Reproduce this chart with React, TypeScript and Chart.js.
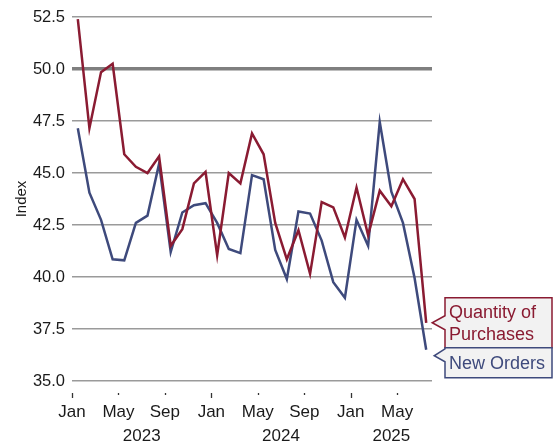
import React, { useEffect, useRef } from 'react';
import { Chart, registerables } from 'chart.js';

Chart.register(...registerables);

// ---- data ----
const startYear = 2023;
const monthNames = ['Jan', 'Feb', 'Mar', 'Apr', 'May', 'Jun', 'Jul', 'Aug', 'Sep', 'Oct', 'Nov', 'Dec'];
const quantityOfPurchases = [
  52.4, 47.15, 49.85, 50.25, 45.9, 45.3, 45.0, 45.8, 41.5, 42.3, 44.5, 45.05,
  41.05, 45.0, 44.5, 46.9, 45.9, 42.6, 40.85, 42.25, 40.15, 43.6, 43.35, 41.9,
  44.3, 42.0, 44.15, 43.4, 44.7, 43.75, 37.8,
];
const newOrders = [
  47.15, 44.05, 42.75, 40.85, 40.8, 42.6, 42.95, 45.45, 41.2, 43.1, 43.45, 43.55,
  42.6, 41.35, 41.15, 44.9, 44.7, 41.3, 39.9, 43.15, 43.05, 41.75, 39.75, 39.0,
  42.75, 41.5, 47.45, 44.1, 42.6, 39.95, 36.5,
];
const yearLabels = ['2023', '2024', '2025'];
const tickEveryMonths = 4;
const yMin = 35;
const yMax = 52.5;
const yStep = 2.5;
const refLine = 50;
const seriesNames = ['Quantity of Purchases', 'New Orders'];
const seriesLabelLines = [['Quantity of', 'Purchases'], ['New Orders']];

const FONT = '"Liberation Sans", Arial, Helvetica, sans-serif';
const RED = '#8a1b32';
const BLUE = '#3e4a7c';
const TEXT = '#1a1a1a';

const nMonths = quantityOfPurchases.length;

function drawCallout(
  ctx: CanvasRenderingContext2D,
  left: number, top: number, right: number, bottom: number,
  tipX: number, tipY: number, b1: number, b2: number,
  color: string, lines: string[]
) {
  ctx.save();
  ctx.beginPath();
  ctx.moveTo(left, top);
  ctx.lineTo(right, top);
  ctx.lineTo(right, bottom);
  ctx.lineTo(left, bottom);
  ctx.lineTo(left, b2);
  ctx.lineTo(tipX, tipY);
  ctx.lineTo(left, b1);
  ctx.closePath();
  ctx.fillStyle = '#f2f2f2';
  ctx.fill();
  ctx.strokeStyle = color;
  ctx.lineWidth = 1.5;
  ctx.stroke();
  ctx.fillStyle = color;
  ctx.font = `18px ${FONT}`;
  ctx.textAlign = 'left';
  ctx.textBaseline = 'middle';
  const lh = 22;
  const cy = (top + bottom) / 2;
  lines.forEach((t, i) => {
    ctx.fillText(t, left + 4, cy + (i - (lines.length - 1) / 2) * lh + 1);
  });
  ctx.restore();
}

const calloutPlugin = {
  id: 'callouts',
  afterDatasetsDraw(chart: any) {
    const { ctx, chartArea } = chart;
    const xs = chart.scales.x;
    const ys = chart.scales.y;
    const boxLeft = chartArea.right + 13;
    const boxRight = chart.width - 2;
    const lastX = xs.getPixelForValue(nMonths - 0.5);
    const ry = ys.getPixelForValue(quantityOfPurchases[nMonths - 1]);
    const redTop = ry - 25;
    const redBottom = ry + 25;
    drawCallout(ctx, boxLeft, redTop, boxRight, redBottom, lastX + 6, ry, ry - 7, ry + 7, RED, seriesLabelLines[0]);
    const by = ys.getPixelForValue(newOrders[nMonths - 1]);
    const blueTop = redBottom;
    const blueBottom = blueTop + 30;
    const tipY = Math.max(by, blueTop + 8);
    drawCallout(ctx, boxLeft, blueTop, boxRight, blueBottom, lastX + 8, tipY, blueTop + 1, blueTop + 14, BLUE, seriesLabelLines[1]);
  },
};

const axisDecorPlugin = {
  id: 'axisDecor',
  afterDraw(chart: any) {
    const { ctx, chartArea } = chart;
    const xs = chart.scales.x;
    ctx.save();
    ctx.strokeStyle = '#333';
    ctx.lineWidth = 1.3;
    for (let m = 0; m < nMonths; m += tickEveryMonths) {
      const px = Math.round(xs.getPixelForValue(m)) + 0.5;
      const major = m % 12 === 0;
      ctx.beginPath();
      ctx.moveTo(px, chartArea.bottom + 12);
      ctx.lineTo(px, chartArea.bottom + (major ? 17 : 14));
      ctx.stroke();
    }
    ctx.font = `17px ${FONT}`;
    ctx.fillStyle = TEXT;
    ctx.textAlign = 'center';
    ctx.textBaseline = 'middle';
    yearLabels.forEach((yl, i) => {
      const s = i * 12;
      const e = Math.min(nMonths, s + 12);
      const cx = xs.getPixelForValue((s + e) / 2);
      ctx.fillText(yl, cx, chartArea.bottom + 55);
    });
    ctx.restore();
  },
};

export default function App() {
  const ref = useRef<HTMLCanvasElement | null>(null);
  useEffect(() => {
    if (!ref.current) return;
    const toPts = (arr: number[]) => arr.map((v, i) => ({ x: i + 0.5, y: v }));
    const chart = new Chart(ref.current, {
      type: 'line',
      data: {
        datasets: [
          {
            label: seriesNames[0],
            data: toPts(quantityOfPurchases),
            borderColor: RED,
            backgroundColor: RED,
            borderWidth: 2.5,
            pointRadius: 0,
            tension: 0,
          },
          {
            label: seriesNames[1],
            data: toPts(newOrders),
            borderColor: BLUE,
            backgroundColor: BLUE,
            borderWidth: 2.5,
            pointRadius: 0,
            tension: 0,
          },
        ],
      },
      options: {
        responsive: false,
        animation: false,
        layout: { padding: { left: 0, right: 122, top: 17, bottom: 0 } },
        plugins: { legend: { display: false }, tooltip: { enabled: false } },
        scales: {
          x: {
            type: 'linear',
            min: 0,
            max: nMonths,
            grid: { display: false },
            border: { display: false },
            afterBuildTicks: (scale: any) => {
              const t = [];
              for (let m = 0; m < nMonths; m += tickEveryMonths) t.push({ value: m });
              scale.ticks = t;
            },
            afterFit: (scale: any) => { scale.height = 62; },
            ticks: {
              autoSkip: false,
              maxRotation: 0,
              padding: 13,
              color: TEXT,
              font: { family: FONT, size: 17 },
              callback: (v: any) => monthNames[Number(v) % 12],
            },
          },
          y: {
            min: yMin,
            max: yMax,
            afterFit: (scale: any) => { scale.width = 72; },
            ticks: {
              stepSize: yStep,
              padding: 7,
              color: TEXT,
              font: { family: FONT, size: 16.5 },
              callback: (v: any) => Number(v).toFixed(1),
            },
            grid: {
              drawTicks: false,
              color: (c: any) => (c.tick && c.tick.value === refLine ? '#7f7f7f' : '#9a9a9a'),
              lineWidth: (c: any) => (c.tick && c.tick.value === refLine ? 3.5 : 1.5),
            },
            border: { display: false },
            title: {
              display: true,
              text: 'Index',
              color: TEXT,
              font: { family: FONT, size: 15 },
              padding: { top: 13, bottom: 0 },
            },
          },
        },
      },
      plugins: [calloutPlugin, axisDecorPlugin],
    } as any);
    return () => chart.destroy();
  }, []);
  return (
    <div style={{ position: 'fixed', left: 0, top: 0, width: 554, height: 443, background: '#fff' }}>
      <canvas ref={ref} width={554} height={443} />
    </div>
  );
}
